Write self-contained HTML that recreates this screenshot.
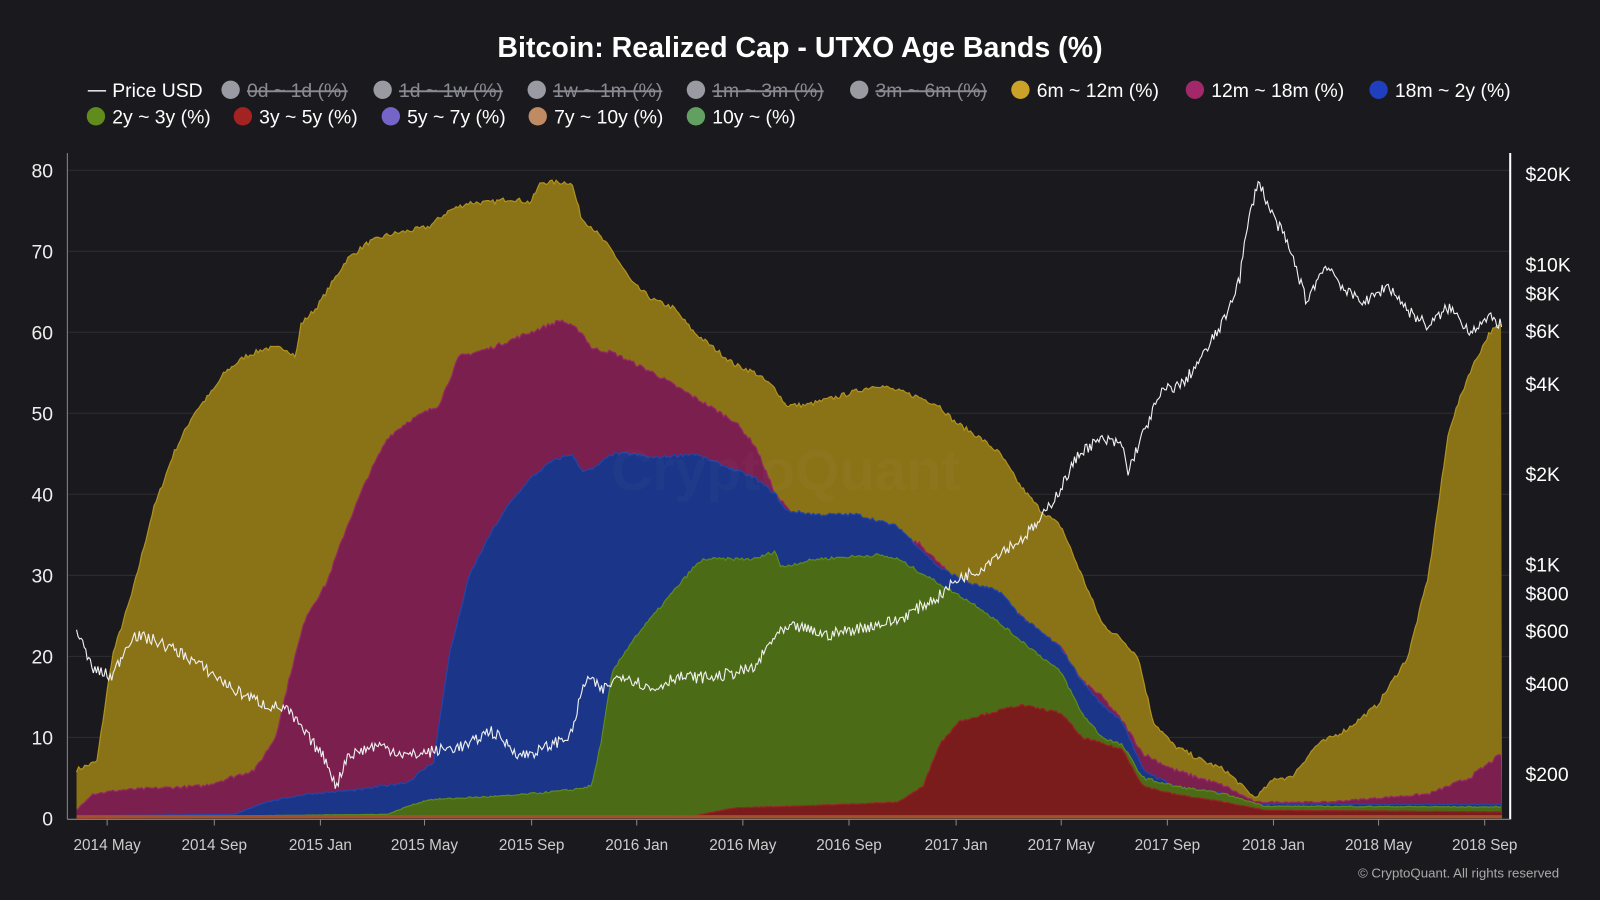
<!DOCTYPE html>
<html><head><meta charset="utf-8"><style>
html,body{margin:0;padding:0;background:#1a1a1e;width:1600px;height:900px;overflow:hidden}
svg{display:block;font-family:"Liberation Sans",sans-serif}
</style></head><body>
<svg id="s" width="1600" height="900" viewBox="0 0 1568 882" preserveAspectRatio="none">
<rect width="1568" height="882" fill="#1a1a1e"/>
<text x="784" y="56" fill="#fff" font-size="28" font-weight="bold" text-anchor="middle">Bitcoin: Realized Cap - UTXO Age Bands (%)</text>
<g font-size="19" fill="#fff" id="leg"></g>
<g id="grid" stroke="#2c2c32" stroke-width="1"></g>
<g id="areas"></g>
<g id="axes"></g>
<text x="770" y="480" fill="#ffffff" fill-opacity="0.025" font-size="56" text-anchor="middle" font-weight="bold">CryptoQuant</text>
<text x="1528" y="860" fill="#aaa" font-size="13" text-anchor="end">© CryptoQuant. All rights reserved</text>
</svg>
<script>
const NS="http://www.w3.org/2000/svg";
function el(t,a,p,txt){const e=document.createElementNS(NS,t);for(const k in a)e.setAttribute(k,a[k]);if(txt!==undefined)e.textContent=txt;(p||document.getElementById('s')).appendChild(e);return e;}
const Y=v=>802-7.94*v;
const P=p=>553-294*Math.log10(p/1000);
const leg=document.getElementById('leg');
const L1=[[86,'—',null,'Price USD'],[218,'#9a9aa2',1,'0d ~ 1d (%)'],[367,'#9a9aa2',1,'1d ~ 1w (%)'],[518,'#9a9aa2',1,'1w ~ 1m (%)'],[674,'#9a9aa2',1,'1m ~ 3m (%)'],[834,'#9a9aa2',1,'3m ~ 6m (%)'],[992,'#c9a227',0,'6m ~ 12m (%)'],[1163,'#a3286a',0,'12m ~ 18m (%)'],[1343,'#1f3fbf',0,'18m ~ 2y (%)']];
const L2=[[86,'#5f8c1c',0,'2y ~ 3y (%)'],[230,'#a32222',0,'3y ~ 5y (%)'],[375,'#7565c8',0,'5y ~ 7y (%)'],[519,'#c08a62',0,'7y ~ 10y (%)'],[674,'#62a062',0,'10y ~ (%)']];
function row(items,y){items.forEach(([x,c,st,t])=>{let tx;
 if(c==='—'){el('line',{x1:x,y1:y-6,x2:x+18,y2:y-6,stroke:'#ddd','stroke-width':1.5},leg);tx=el('text',{x:x+24,y:y},leg,t);}
 else{el('circle',{cx:x+8,cy:y-7,r:9,fill:c},leg);tx=el('text',{x:x+24,y:y,fill:st?'#8a8a92':'#fff'},leg,t);if(st)tx.setAttribute('text-decoration','line-through');}
});}
row(L1,95);row(L2,121);
const g=document.getElementById('grid');
for(let v=0;v<=80;v+=10){el('line',{x1:66,x2:1480,y1:Y(v),y2:Y(v)},g);el('text',{x:52,y:Y(v)+7,fill:'#eee','font-size':19,'text-anchor':'end',stroke:'none'},document.getElementById('axes'),v);}
const ax=document.getElementById('axes');
el('line',{x1:66,y1:150,x2:66,y2:803,stroke:'#888'},ax);
el('line',{x1:1480,y1:150,x2:1480,y2:803,stroke:'#fff','stroke-width':2},ax);
el('line',{x1:66,y1:803,x2:1480,y2:803,stroke:'#888'},ax);
[['$20K',20000],['$10K',10000],['$8K',8000],['$6K',6000],['$4K',4000],['$2K',2000],['$1K',1000],['$800',800],['$600',600],['$400',400],['$200',200]].forEach(([t,p])=>el('text',{x:1495,y:P(p)+7,fill:'#fff','font-size':19},ax,t));
[['2014 May',105],['2014 Sep',210],['2015 Jan',314],['2015 May',416],['2015 Sep',521],['2016 Jan',624],['2016 May',728],['2016 Sep',832],['2017 Jan',937],['2017 May',1040],['2017 Sep',1144],['2018 Jan',1248],['2018 May',1351],['2018 Sep',1455]].forEach(([t,x])=>{el('text',{x:x,y:833,fill:'#ccc','font-size':15,'text-anchor':'middle'},ax,t);el('line',{x1:x,x2:x,y1:803,y2:809,stroke:'#888'},ax);});
function interp(pts,x){for(let i=0;i<pts.length-1;i++){if(x>=pts[i][0]&&x<=pts[i+1][0]){const t=(x-pts[i][0])/(pts[i+1][0]-pts[i][0]);return pts[i][1]+t*(pts[i+1][1]-pts[i][1]);}}return pts[pts.length-1][1];}
const gold=[[75,6],[95,7],[110,20],[130,28],[150,38],[170,45],[190,50],[210,53],[220,55],[240,57],[260,58],[280,58],[290,57],[295,61],[310,63],[330,67],[340,69],[360,71],[380,72],[400,72.5],[420,73],[440,75],[460,76],[480,76],[500,76.5],[520,76],[530,78.5],[560,78.5],[570,74],[580,73],[600,70],[620,66],[640,64],[660,63],[680,60],[700,58],[720,56],[740,55],[760,53],[770,51],[790,51],[820,52],[860,53.5],[900,52],[920,51],[935,49],[960,47],[980,45],[1000,41],[1020,38],[1040,36],[1060,30],[1080,24],[1100,22],[1115,20],[1130,12],[1150,9],[1180,7],[1200,6],[1230,2.5],[1250,5],[1265,5],[1290,9],[1320,11],[1350,14],[1380,20],[1400,30],[1420,48],[1440,55],[1460,60],[1472,61]];
const mag=[[75,1],[90,3],[120,3.5],[200,4],[250,6],[270,10],[285,18],[300,25],[320,29],[340,36],[360,42],[380,47],[400,49],[430,51],[450,57],[480,58],[520,60],[550,61.5],[570,60],[580,58],[600,57.5],[640,55],[680,52],[720,49],[740,46],[760,40],[780,37],[820,36],[860,35],[900,34],[940,29],[970,28],[1000,25],[1040,21],[1060,17],[1080,15],[1100,12],[1120,8],[1150,6],[1200,4],[1230,2],[1300,2],[1400,3],[1440,5],[1472,8]];
const blue=[[75,0.3],[230,0.5],[260,2],[300,3],[350,3.5],[400,4.5],[425,7],[440,20],[460,30],[480,35],[500,39],[520,42],[540,44],[560,45],[570,43],[580,43],[600,45],[620,45],[640,44.5],[680,45],[700,44],[740,42],[760,40],[770,38],[800,37.5],[840,37.5],[880,36],[920,31],[950,29],[980,28],[1000,25],[1040,21],[1060,17],[1080,14],[1100,12],[1120,6],[1150,4],[1200,3],[1230,1.8],[1472,1.7]];
const green=[[75,0.1],[380,0.5],[400,1.5],[420,2.3],[500,2.8],[560,3.5],[580,4],[590,10],[600,18],[620,22],[640,25],[660,28],[680,31],[690,32],[740,32],[760,33],[765,31],[800,32],[860,32.5],[880,32],[920,29],[960,26],[1000,22],[1040,18],[1060,13],[1080,10],[1100,9],[1120,5],[1150,4],[1200,3],[1240,1.5],[1472,1.4]];
const red=[[75,0],[680,0.3],[720,1.3],[800,1.6],[880,2],[905,4],[920,9],[940,12],[1000,14],[1040,13],[1060,10],[1100,8.5],[1120,4],[1150,3],[1200,2],[1240,1],[1472,0.8]];
const A=document.getElementById('areas');
let seed=7;const rnd=()=>{seed=(seed*16807)%2147483647;return seed/2147483647;};
function area(pts,fill,stroke,noise){let d='M75,'+Y(0);let top='';for(let x=75;x<=1472;x+=2){let v=interp(pts,x)+(rnd()-0.5)*noise*Math.min(1,interp(pts,x)/5);top+=(top?'L':'M')+x+','+Y(v).toFixed(1);d+='L'+x+','+Y(v).toFixed(1);}d+='L1472,'+Y(0)+'Z';el('path',{d:d,fill:fill},A);el('path',{d:top,fill:'none',stroke:stroke,'stroke-width':1.2},A);}
area(gold,'#8a7217','#b0921e',0.6);
area(mag,'#7a1f4e','#962866',0.5);
area(blue,'#1b3688','#2545a8',0.4);
area(green,'#4c6b16','#5e8a1c',0.4);
area(red,'#7a1c1c','#962424',0.3);
el('rect',{x:75,y:Y(0.4),width:1397,height:Y(0)-Y(0.4),fill:'#a0522d'},A);
const price=[[75,600],[90,450],[110,420],[130,580],[150,560],[180,500],[200,450],[230,380],[260,340],[280,330],[300,270],[320,220],[330,180],[340,230],[370,250],[400,230],[430,240],[460,250],[480,280],[510,230],[530,240],[560,270],[575,420],[590,380],[610,430],[640,380],[660,420],[700,420],[740,450],[760,580],[780,620],[810,580],[840,610],[880,650],[920,780],[940,900],[960,960],[980,1100],[1000,1200],[1020,1400],[1040,1800],[1060,2400],[1080,2600],[1100,2500],[1105,2000],[1120,2700],[1140,3800],[1160,4000],[1180,5000],[1200,6500],[1215,9000],[1233,19000],[1245,15000],[1260,12000],[1280,7500],[1300,10000],[1320,8000],[1340,7500],[1360,8500],[1380,7000],[1400,6200],[1420,7200],[1440,6000],[1460,6600],[1472,6300]];
let d='';for(let x=75;x<=1472;x+=1.5){const lp=Math.log10(interp(price,x))+(rnd()-0.5)*0.04;d+=(d?'L':'M')+x+','+P(Math.pow(10,lp)).toFixed(1);}
el('path',{d:d,fill:'none',stroke:'#f0f0f0','stroke-width':1.1},A);
</script>
</body></html>
